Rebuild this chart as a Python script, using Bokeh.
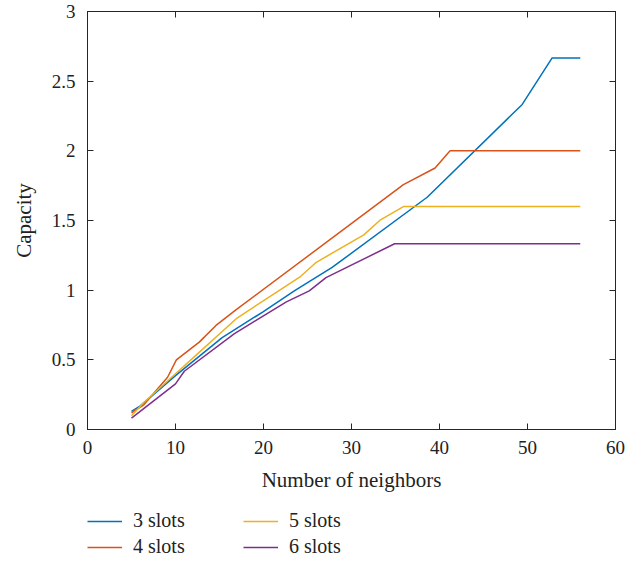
from bokeh.plotting import figure
from bokeh.layouts import column
from bokeh.models import LinearAxis, FixedTicker, Range1d, Legend, LegendItem
from bokeh.embed import file_html
from bokeh.resources import INLINE

# ---- data ----
x_3 = [5, 6, 10, 15.3, 19.9, 23.5, 27.8, 38.6, 49.4, 52.8, 56]
y_3 = [0.13, 0.17, 0.387, 0.659, 0.843, 0.995, 1.163, 1.667, 2.333, 2.667, 2.667]

x_4 = [5, 6.4, 9.1, 10.1, 12.7, 14.6, 16.9, 35.9, 39.5, 41.2, 56]
y_4 = [0.12, 0.177, 0.375, 0.5, 0.627, 0.747, 0.86, 1.757, 1.877, 2.0, 2.0]

x_5 = [5, 6.4, 10, 12.5, 17, 24.2, 26, 31.4, 33.3, 35.9, 56]
y_5 = [0.098, 0.194, 0.4, 0.543, 0.8, 1.098, 1.2, 1.397, 1.505, 1.6, 1.6]

x_6 = [5, 10, 11, 16.7, 22.6, 25.2, 27.1, 34.9, 56]
y_6 = [0.081, 0.327, 0.418, 0.688, 0.916, 0.995, 1.09, 1.333, 1.333]

series_names = ["3 slots", "4 slots", "5 slots", "6 slots"]
series_colors = ["#0072BD", "#D95319", "#EDB120", "#7E2F8E"]

x_ticks = [0, 10, 20, 30, 40, 50, 60]
y_ticks = [0, 0.5, 1, 1.5, 2, 2.5, 3]
y_tick_labels = ["0", "0.5", "1", "1.5", "2", "2.5", "3"]

FONT = "Liberation Serif"
AX = "#262626"
TXT = "#222222"

p = figure(width=626, height=509,
           x_range=Range1d(0, 60), y_range=Range1d(0, 3),
           output_backend="svg", toolbar_location=None,
           min_border_left=87, min_border_top=11, min_border_right=11,
           min_border_bottom=80)
p.grid.visible = False
p.outline_line_color = AX
p.outline_line_width = 1
p.background_fill_color = "white"
p.border_fill_color = "white"

xs = [x_3, x_4, x_5, x_6]
ys = [y_3, y_4, y_5, y_6]
for xv, yv, c in zip(xs, ys, series_colors):
    p.line(xv, yv, line_color=c, line_width=1.5)

def style_axis(ax, ticks, show_labels, standoff=8):
    ax.ticker = FixedTicker(ticks=ticks)
    ax.axis_line_color = AX
    ax.major_tick_line_color = AX
    ax.major_tick_in = 6
    ax.major_tick_out = 0
    ax.minor_tick_line_color = None
    ax.major_label_text_font = FONT
    ax.major_label_text_color = TXT
    ax.major_label_text_font_size = "19px"
    if show_labels:
        ax.major_label_standoff = standoff
    else:
        ax.major_label_standoff = 0
        ax.major_label_overrides = {float(t): "" for t in ticks}

xa = p.xaxis[0]
style_axis(xa, x_ticks, True, standoff=11)
xa.axis_label = "Number of neighbors"
xa.axis_label_text_font = FONT
xa.axis_label_text_font_size = "21px"
xa.axis_label_text_font_style = "normal"
xa.axis_label_text_color = TXT
xa.axis_label_standoff = 11

ya = p.yaxis[0]
style_axis(ya, y_ticks, True, standoff=12)
ya.major_label_overrides = {float(t): s for t, s in zip(y_ticks, y_tick_labels)}
ya.axis_label = "Capacity"
ya.axis_label_text_font = FONT
ya.axis_label_text_font_size = "21px"
ya.axis_label_text_font_style = "normal"
ya.axis_label_text_color = TXT
ya.axis_label_standoff = 13

top = LinearAxis()
style_axis(top, x_ticks, False)
p.add_layout(top, "above")
right = LinearAxis()
style_axis(right, y_ticks, False)
p.add_layout(right, "right")

# ---- legend strip below the chart ----
p2 = figure(width=626, height=55, x_range=Range1d(0, 60), y_range=Range1d(0, 3),
            output_backend="svg", toolbar_location=None,
            min_border_left=78, min_border_right=0, min_border_top=0,
            min_border_bottom=0)
p2.axis.visible = False
p2.grid.visible = False
p2.outline_line_color = None
leg_renderers = [p2.line(xv[:1], yv[:1], line_color=c, line_width=1.5)
                 for xv, yv, c in zip(xs, ys, series_colors)]

items = [LegendItem(label=n, renderers=[r]) for n, r in zip(series_names, leg_renderers)]
legend = Legend(items=items, nrows=2, orientation="vertical", location="top_left")
legend.glyph_width = 35
legend.glyph_height = 20
legend.label_height = 20
legend.label_standoff = 11
legend.label_width = 107
legend.spacing = 3
legend.padding = 8
legend.margin = 0
legend.border_line_color = None
legend.background_fill_alpha = 0
legend.label_text_font = FONT
legend.label_text_font_size = "20px"
legend.label_text_color = TXT
p2.add_layout(legend, "center")

layout = column(p, p2, spacing=0)
open("out.html", "w").write(file_html(layout, INLINE))
